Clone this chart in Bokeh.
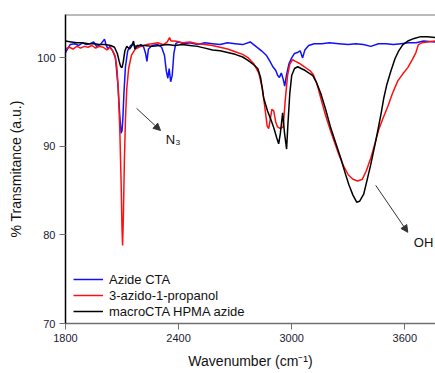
from bokeh.plotting import figure
from bokeh.models import Range1d, Span, Arrow, NormalHead, Label, Legend, LegendItem, FixedTicker
from bokeh.embed import file_html
from bokeh.resources import INLINE

# ---- data ----
azide_cta_wn = [1800, 1810, 1825, 1850, 1870, 1890, 1910, 1930, 1950, 1965, 1985, 2007, 2015, 2025, 2035, 2050,
                2065, 2078, 2088, 2095, 2100, 2104, 2110, 2118, 2130, 2145, 2160, 2180, 2200, 2215, 2225, 2232,
                2240, 2260, 2290, 2310, 2325, 2335, 2343, 2350, 2358, 2366, 2375, 2385, 2400, 2430, 2460, 2500,
                2540, 2580, 2620, 2660, 2700, 2740, 2780, 2810, 2840, 2865, 2885, 2900, 2915, 2926, 2935, 2945,
                2955, 2963, 2972, 2985, 3000, 3015, 3030, 3045, 3058, 3070, 3090, 3120, 3160, 3200, 3250, 3300,
                3340, 3380, 3420, 3460, 3500, 3540, 3580, 3620, 3660, 3700, 3763]
azide_cta_t = [100.6, 101.0, 101.5, 101.6, 101.4, 101.7, 101.5, 101.6, 101.8, 101.3, 101.5, 102.1, 101.5, 101.0, 101.3, 100.8,
               100.0, 97.0, 93.5, 91.5, 91.8, 93.0, 96.0, 99.0, 100.8, 101.4, 101.5, 101.2, 101.5, 101.2, 100.5, 99.6,
               101.0, 101.4, 101.5, 101.2, 100.3, 98.5, 97.7, 98.8, 97.3, 98.0, 100.5, 101.6, 101.8, 101.6, 101.7, 101.5,
               101.7, 101.6, 101.5, 101.7, 101.6, 101.5, 101.8, 101.3, 100.8, 100.3, 99.6, 99.0, 98.6, 98.0, 97.8, 98.3,
               97.6, 96.8, 98.0, 99.3, 100.0, 100.5, 100.6, 100.8, 100.0, 100.9, 101.4, 101.6, 101.6, 101.7, 101.6, 101.5,
               101.6, 101.5, 101.3, 101.6, 101.6, 101.5, 101.6, 101.7, 101.7, 101.9, 101.8]

azidopropanol_wn = [1800, 1820, 1840, 1860, 1880, 1900, 1920, 1940, 1960, 1980, 2000, 2020, 2035, 2050, 2062, 2072,
                    2080, 2088, 2095, 2100, 2103, 2107, 2112, 2118, 2125, 2135, 2150, 2170, 2200, 2230, 2260, 2290,
                    2320, 2340, 2352, 2360, 2380, 2420, 2460, 2500, 2540, 2580, 2620, 2660, 2700, 2740, 2770, 2800,
                    2825, 2845, 2860, 2870, 2878, 2886, 2895, 2905, 2915, 2925, 2940, 2955, 2965, 2978, 2990, 3005,
                    3020, 3040, 3060, 3080, 3100, 3115, 3135, 3155, 3180, 3207, 3230, 3250, 3275, 3300, 3325, 3350,
                    3375, 3395, 3420, 3440, 3462, 3485, 3510, 3535, 3563, 3590, 3616, 3640, 3659, 3672, 3690, 3720, 3763]
azidopropanol_t = [101.0, 101.2, 101.0, 101.3, 101.1, 101.3, 101.2, 101.4, 101.1, 101.3, 101.2, 100.9, 101.2, 100.8, 100.3, 99.0,
                   96.5, 92.0, 86.0, 80.5, 78.8, 82.0, 88.0, 93.0, 96.5, 98.8, 100.3, 101.0, 101.3, 101.5, 101.6, 101.7,
                   101.5, 101.8, 102.3, 101.9, 101.9, 101.7, 101.8, 101.6, 101.5, 101.4, 101.2, 101.0, 100.7, 100.4, 100.0, 99.3,
                   98.3, 96.5, 94.0, 92.3, 92.0, 93.0, 94.2, 94.0, 92.8, 92.2, 92.0, 92.2, 95.0, 98.0, 99.3, 99.8,
                   99.6, 99.4, 99.1, 98.8, 98.5, 98.1, 97.0, 95.4, 93.5, 91.7, 90.3, 89.1, 87.8, 86.8, 86.3, 86.1,
                   86.3, 87.2, 88.7, 90.2, 91.9, 93.2, 94.5, 96.0, 97.4, 98.2, 98.9, 99.8, 100.6, 101.5, 101.7, 101.8, 101.9]

macrocta_wn = [1800, 1830, 1860, 1890, 1920, 1950, 1980, 2010, 2040, 2060, 2075, 2085, 2093, 2100, 2106, 2115,
               2125, 2140, 2150, 2161, 2168, 2180, 2220, 2260, 2300, 2340, 2380, 2420, 2460, 2500, 2540, 2580,
               2620, 2660, 2700, 2740, 2770, 2800, 2820, 2835, 2851, 2872, 2890, 2905, 2920, 2931, 2940, 2952,
               2962, 2973, 2980, 2990, 3000, 3015, 3032, 3050, 3070, 3090, 3112, 3130, 3154, 3180, 3207, 3235,
               3260, 3285, 3303, 3325, 3345, 3360, 3382, 3400, 3420, 3440, 3457, 3475, 3489, 3505, 3526, 3548,
               3568, 3590, 3616, 3650, 3685, 3720, 3763]
macrocta_t = [101.9, 101.8, 101.7, 101.7, 101.6, 101.6, 101.5, 101.5, 101.4, 101.2, 100.5, 99.6, 99.0, 98.9, 99.5, 100.8,
              101.3, 101.0, 101.3, 101.9, 101.0, 101.4, 101.4, 101.3, 101.4, 101.5, 101.4, 101.5, 101.4, 101.3, 101.1, 100.9,
              100.8, 100.6, 100.4, 100.1, 99.7, 99.2, 98.8, 97.8, 95.5, 94.0, 93.0, 92.1, 91.0, 90.3, 91.5, 93.8,
              91.5, 89.7, 92.5, 96.0, 98.0, 98.8, 99.0, 98.8, 98.6, 98.3, 98.0, 97.3, 96.0, 94.2, 92.1, 90.3,
              88.7, 86.9, 85.7, 84.5, 83.7, 83.8, 84.6, 86.2, 88.0, 90.0, 91.8, 93.8, 95.5, 97.0, 98.5, 99.9,
              100.8, 101.5, 101.9, 102.2, 102.4, 102.4, 102.3]

series_names = ["Azide CTA", "3-azido-1-propanol", "macroCTA HPMA azide"]
series_colors = ["#1010ff", "#ff1010", "#000000"]
x_ticks = [1800, 2400, 3000, 3600]
y_ticks = [70, 80, 90, 100]

FONT = "Liberation Sans"

p = figure(width=435, height=373, output_backend="svg", toolbar_location=None,
           x_range=Range1d(1800, 3763), y_range=Range1d(70, 104.9),
           min_border_left=65, min_border_right=0, min_border_top=14, min_border_bottom=50)
p.outline_line_color = None
p.xgrid.visible = False
p.ygrid.visible = False
p.background_fill_color = "white"
p.border_fill_color = "white"

r1 = p.line(azide_cta_wn, azide_cta_t, line_color=series_colors[0], line_width=1.5)
r2 = p.line(azidopropanol_wn, azidopropanol_t, line_color=series_colors[1], line_width=1.5)
r3 = p.line(macrocta_wn, macrocta_t, line_color=series_colors[2], line_width=1.5)

# top border
p.add_layout(Span(location=104.9, dimension="width", line_color="#777777", line_width=2))

# axes
p.xaxis.ticker = FixedTicker(ticks=x_ticks)
p.yaxis.ticker = FixedTicker(ticks=y_ticks)
for ax in (p.xaxis[0], p.yaxis[0]):
    ax.minor_tick_line_color = None
    ax.major_tick_in = 0
    ax.major_tick_out = 6
    ax.major_label_text_font = FONT
    ax.major_label_text_font_size = "11px"
    ax.major_label_text_color = "#1a1a33"
    ax.axis_label_text_font = FONT
    ax.axis_label_text_font_size = "14px"
    ax.axis_label_text_font_style = "normal"
    ax.axis_label_text_color = "#111111"
    ax.axis_line_width = 1.5
p.xaxis.axis_line_color = "#707070"
p.xaxis.major_tick_line_color = "#707070"
p.yaxis.axis_line_color = "#000000"
p.yaxis.major_tick_line_color = "#707070"
p.xaxis.axis_label = "Wavenumber (cm⁻¹)"
p.yaxis.axis_label = "% Transmitance (a.u.)"
p.xaxis.major_label_standoff = 4
p.yaxis.major_label_standoff = 4
p.xaxis.axis_label_standoff = 8
p.yaxis.axis_label_standoff = 10

# annotations
p.add_layout(Arrow(x_start=2177, y_start=94.3, x_end=2304, y_end=91.8,
                   line_color="#333333", line_width=1,
                   end=NormalHead(size=7, fill_color="#333333", line_color="#333333")))
p.add_layout(Label(x=2332, y=90.8, text="N₃", text_font=FONT, text_font_size="13px",
                   text_color="#111111", text_baseline="middle"))
p.add_layout(Arrow(x_start=3446, y_start=85.6, x_end=3616, y_end=80.3,
                   line_color="#333333", line_width=1,
                   end=NormalHead(size=7, fill_color="#333333", line_color="#333333")))
p.add_layout(Label(x=3648, y=79.1, text="OH", text_font=FONT, text_font_size="13px",
                   text_color="#111111", text_baseline="middle"))

legend = Legend(items=[LegendItem(label=series_names[0], renderers=[r1]),
                       LegendItem(label=series_names[1], renderers=[r2]),
                       LegendItem(label=series_names[2], renderers=[r3])],
                location=(8, 4))
legend.border_line_color = None
legend.background_fill_alpha = 0
legend.label_text_font = FONT
legend.label_text_font_size = "13px"
legend.label_text_color = "#111111"
legend.glyph_width = 30
legend.glyph_height = 16
legend.label_height = 16
legend.spacing = 0
legend.padding = 5
legend.margin = 0
legend.label_standoff = 6
p.add_layout(legend)

open("out.html", "w").write(file_html(p, INLINE))
